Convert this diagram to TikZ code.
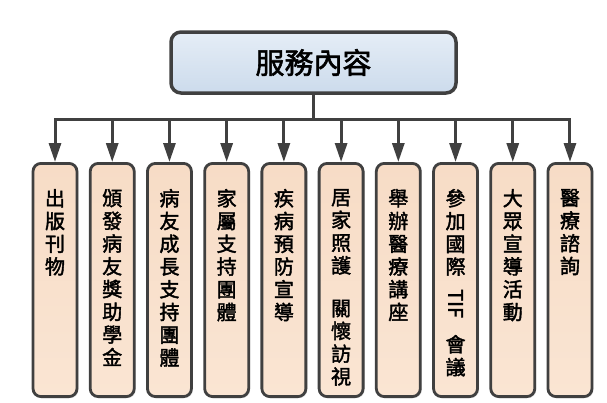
\documentclass[tikz,border=0pt]{standalone}
\usepackage{fontspec}
\usepackage{graphicx}
\newfontfamily\cjk[FakeBold=2]{Noto Sans CJK TC}
\usetikzlibrary{arrows.meta,shadows}

\definecolor{edge}{RGB}{64,64,64}
\definecolor{peach}{RGB}{247,220,198}
\definecolor{peachlt}{RGB}{250,229,211}
\definecolor{skytop}{RGB}{229,237,246}
\definecolor{skybot}{RGB}{204,219,236}

\tikzset{
  svcbox/.style={draw=edge,line width=3.5pt,rounded corners=10pt,top color=skytop,bottom color=skybot,
    minimum width=285pt,minimum height=61pt,inner sep=0pt,
    drop shadow={opacity=0.25,shadow xshift=1.5pt,shadow yshift=-1.5pt}},
  itembox/.style={draw=edge,line width=2.8pt,rounded corners=8pt,top color=peach,bottom color=peachlt,
    minimum width=43.2pt,minimum height=233.2pt,inner sep=0pt,anchor=north,
    drop shadow={opacity=0.2,shadow xshift=1.5pt,shadow yshift=-1.5pt}},
  link/.style={draw=edge,line width=3pt},
  linkarrow/.style={-{Triangle[length=19pt,width=12pt]}}
}

% vertical text, one character per line
\newcommand\vtext[1]{\parbox[t][182pt][t]{44pt}{\centering\cjk\fontsize{20}{22.75}\selectfont #1}}

\begin{document}
\begin{tikzpicture}[x=1pt,y=-1pt]
    \useasboundingbox (0,0) rectangle (607,402);

    % Heading box
    \node[svcbox] (svc) at (313.5,62.5) {\cjk\fontsize{29}{30}\selectfont 服務內容};

    % Service items (ten columns)
    \foreach \txt [count=\i] in {
        {出\\版\\刊\\物},
        {頒\\發\\病\\友\\獎\\助\\學\\金},
        {病\\友\\成\\長\\支\\持\\團\\體},
        {家\\屬\\支\\持\\團\\體},
        {疾\\病\\預\\防\\宣\\導},
        {居\\家\\照\\護\\[20pt]關\\懷\\訪\\視},
        {舉\\辦\\醫\\療\\講\\座},
        {參\\加\\國\\際\\[-7.75pt]\rotatebox{-90}{TIF}\\[16pt]會\\議},
        {大\\眾\\宣\\導\\活\\動},
        {醫\\療\\諮\\詢}}
      \node[itembox] (s\i) at ({55+57.22*(\i-1)},162) {\vtext{\txt}};

    % Connectors
    \coordinate (bus) at (315,119);
    \draw[link] (svc.south) -- (svc.south |- bus);
    \draw[link,line cap=rect] (s1.north |- bus) -- (s10.north |- bus);
    \foreach \i in {1,...,10}
      \draw[link,linkarrow] (s\i.north |- bus) -- (s\i.north);
\end{tikzpicture}
\end{document}
